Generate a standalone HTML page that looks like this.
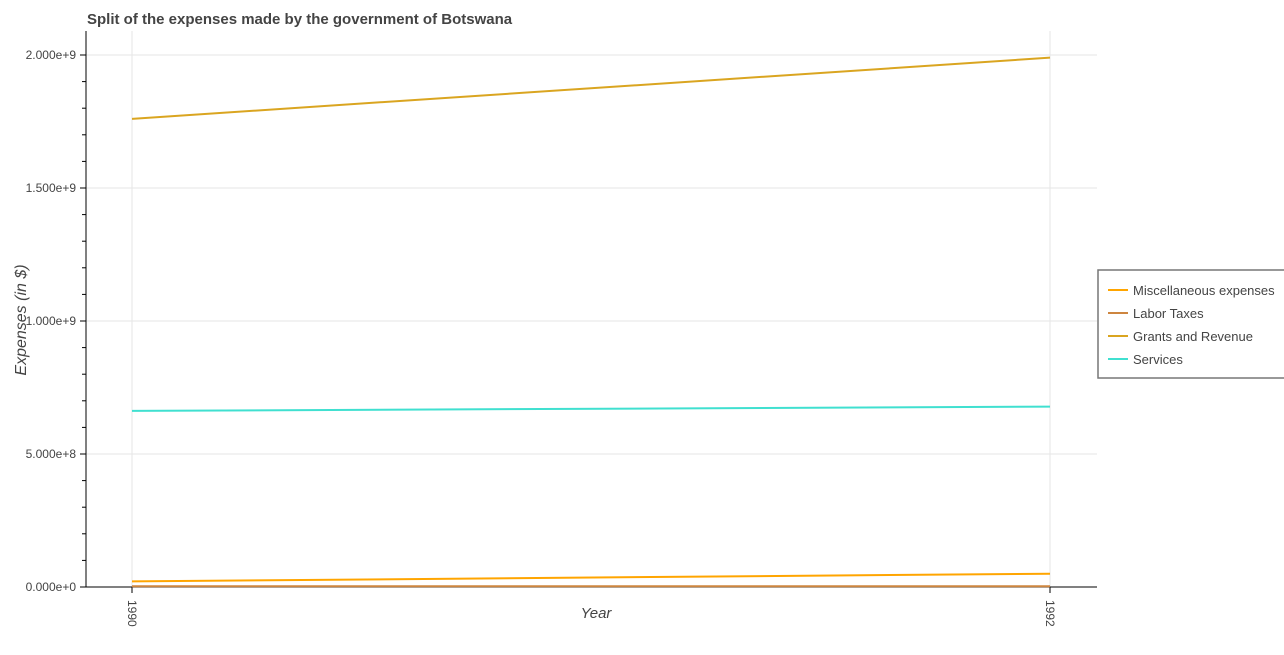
<!DOCTYPE html>
<html><head><meta charset="utf-8"><style>
body{margin:0;background:#fff;font-family:"Liberation Sans",sans-serif;}
svg text{font-family:"Liberation Sans",sans-serif;}
</style></head><body>
<svg id="chart" width="1284" height="650">
<text x="87" y="24" font-size="15" font-weight="bold" fill="#444">Split of the expenses made by the government of Botswana</text>
<g id="grid"></g><g id="axes"></g><g id="series"></g>
<text x="596" y="618" text-anchor="middle" font-size="15" font-style="italic" fill="#444">Year</text>
<text x="0" y="0" transform="translate(26,320) rotate(-90)" text-anchor="middle" font-size="16" font-style="italic" fill="#444">Expenses (in $)</text>
<g>
<rect x="1098" y="270" width="190" height="108" fill="#fff" stroke="#777" stroke-width="1.5"/>
<g id="legend"></g></g>
</svg>
<script>
const years=["1990","1992"];
const misc=[21e6,50e6];
const labor=[3e6,3e6];
const grants=[1.76e9,1.99e9];
const services=[662e6,678e6];
const yTicks=[0,5e8,1e9,1.5e9,2e9];
const yTickLabels=["0.000e+0","5.000e+8","1.000e+9","1.500e+9","2.000e+9"];
const names=["Miscellaneous expenses","Labor Taxes","Grants and Revenue","Services"];
const colors=["#FFA500","#CD853F","#DAA520","#40E0D0"];
const NS="http://www.w3.org/2000/svg";
const X0=86,X1=1097,Y0=587,Ytop=31;
const xs=i=>132+i*(1050-132);
const ys=v=>Y0-v*(532/2e9);
function mk(t,a,p){const e=document.createElementNS(NS,t);for(const k in a)e.setAttribute(k,a[k]);p.appendChild(e);return e;}
const grid=document.getElementById('grid'),axes=document.getElementById('axes'),ser=document.getElementById('series'),leg=document.getElementById('legend');
yTicks.forEach((v,i)=>{
 const g=mk('line',{x1:X0,x2:X1,y1:ys(v),y2:ys(v),stroke:'#e6e6e6'},grid);
 
 
 mk('line',{x1:X0-6,x2:X0,y1:ys(v),y2:ys(v),stroke:'#000'},axes);
 const t=mk('text',{x:X0-10,y:ys(v)+4,'text-anchor':'end','font-size':12,fill:'#444'},axes);
 t.textContent=yTickLabels[i];
 
 
});
for(let v=1e8;v<2.1e9;v+=1e8){if(Math.round(v/1e8)%5!==0)mk('line',{x1:X0-4,x2:X0,y1:ys(v),y2:ys(v),stroke:'#000'},axes);}
years.forEach((y,i)=>{
 const g=mk('line',{x1:xs(i),x2:xs(i),y1:Ytop,y2:Y0,stroke:'#e6e6e6'},grid);
 
 
 mk('line',{x1:xs(i),x2:xs(i),y1:Y0,y2:Y0+6,stroke:'#000'},axes);
 const t=mk('text',{x:0,y:0,transform:`translate(${xs(i)-4},${Y0+13}) rotate(90)`,'font-size':12,fill:'#444'},axes);
 t.textContent=y;
 
 
});
mk('line',{x1:X0,x2:X0,y1:Ytop,y2:Y0,stroke:'#000'},axes);
mk('line',{x1:X0,x2:X1,y1:Y0,y2:Y0,stroke:'#000'},axes);
[misc,labor,grants,services].forEach((d,k)=>{
 const p=mk('polyline',{points:d.map((v,i)=>xs(i)+','+ys(v)).join(' '),fill:'none',stroke:colors[k],'stroke-width':2},ser);
 
 
 const ly=290+k*23;
 mk('line',{x1:1108,x2:1128,y1:ly,y2:ly,stroke:colors[k],'stroke-width':2},leg);
 const t=mk('text',{x:1133,y:ly+5,'font-size':13,fill:'#444'},leg);
 t.textContent=names[k];
 
 
});
</script>
</body></html>
